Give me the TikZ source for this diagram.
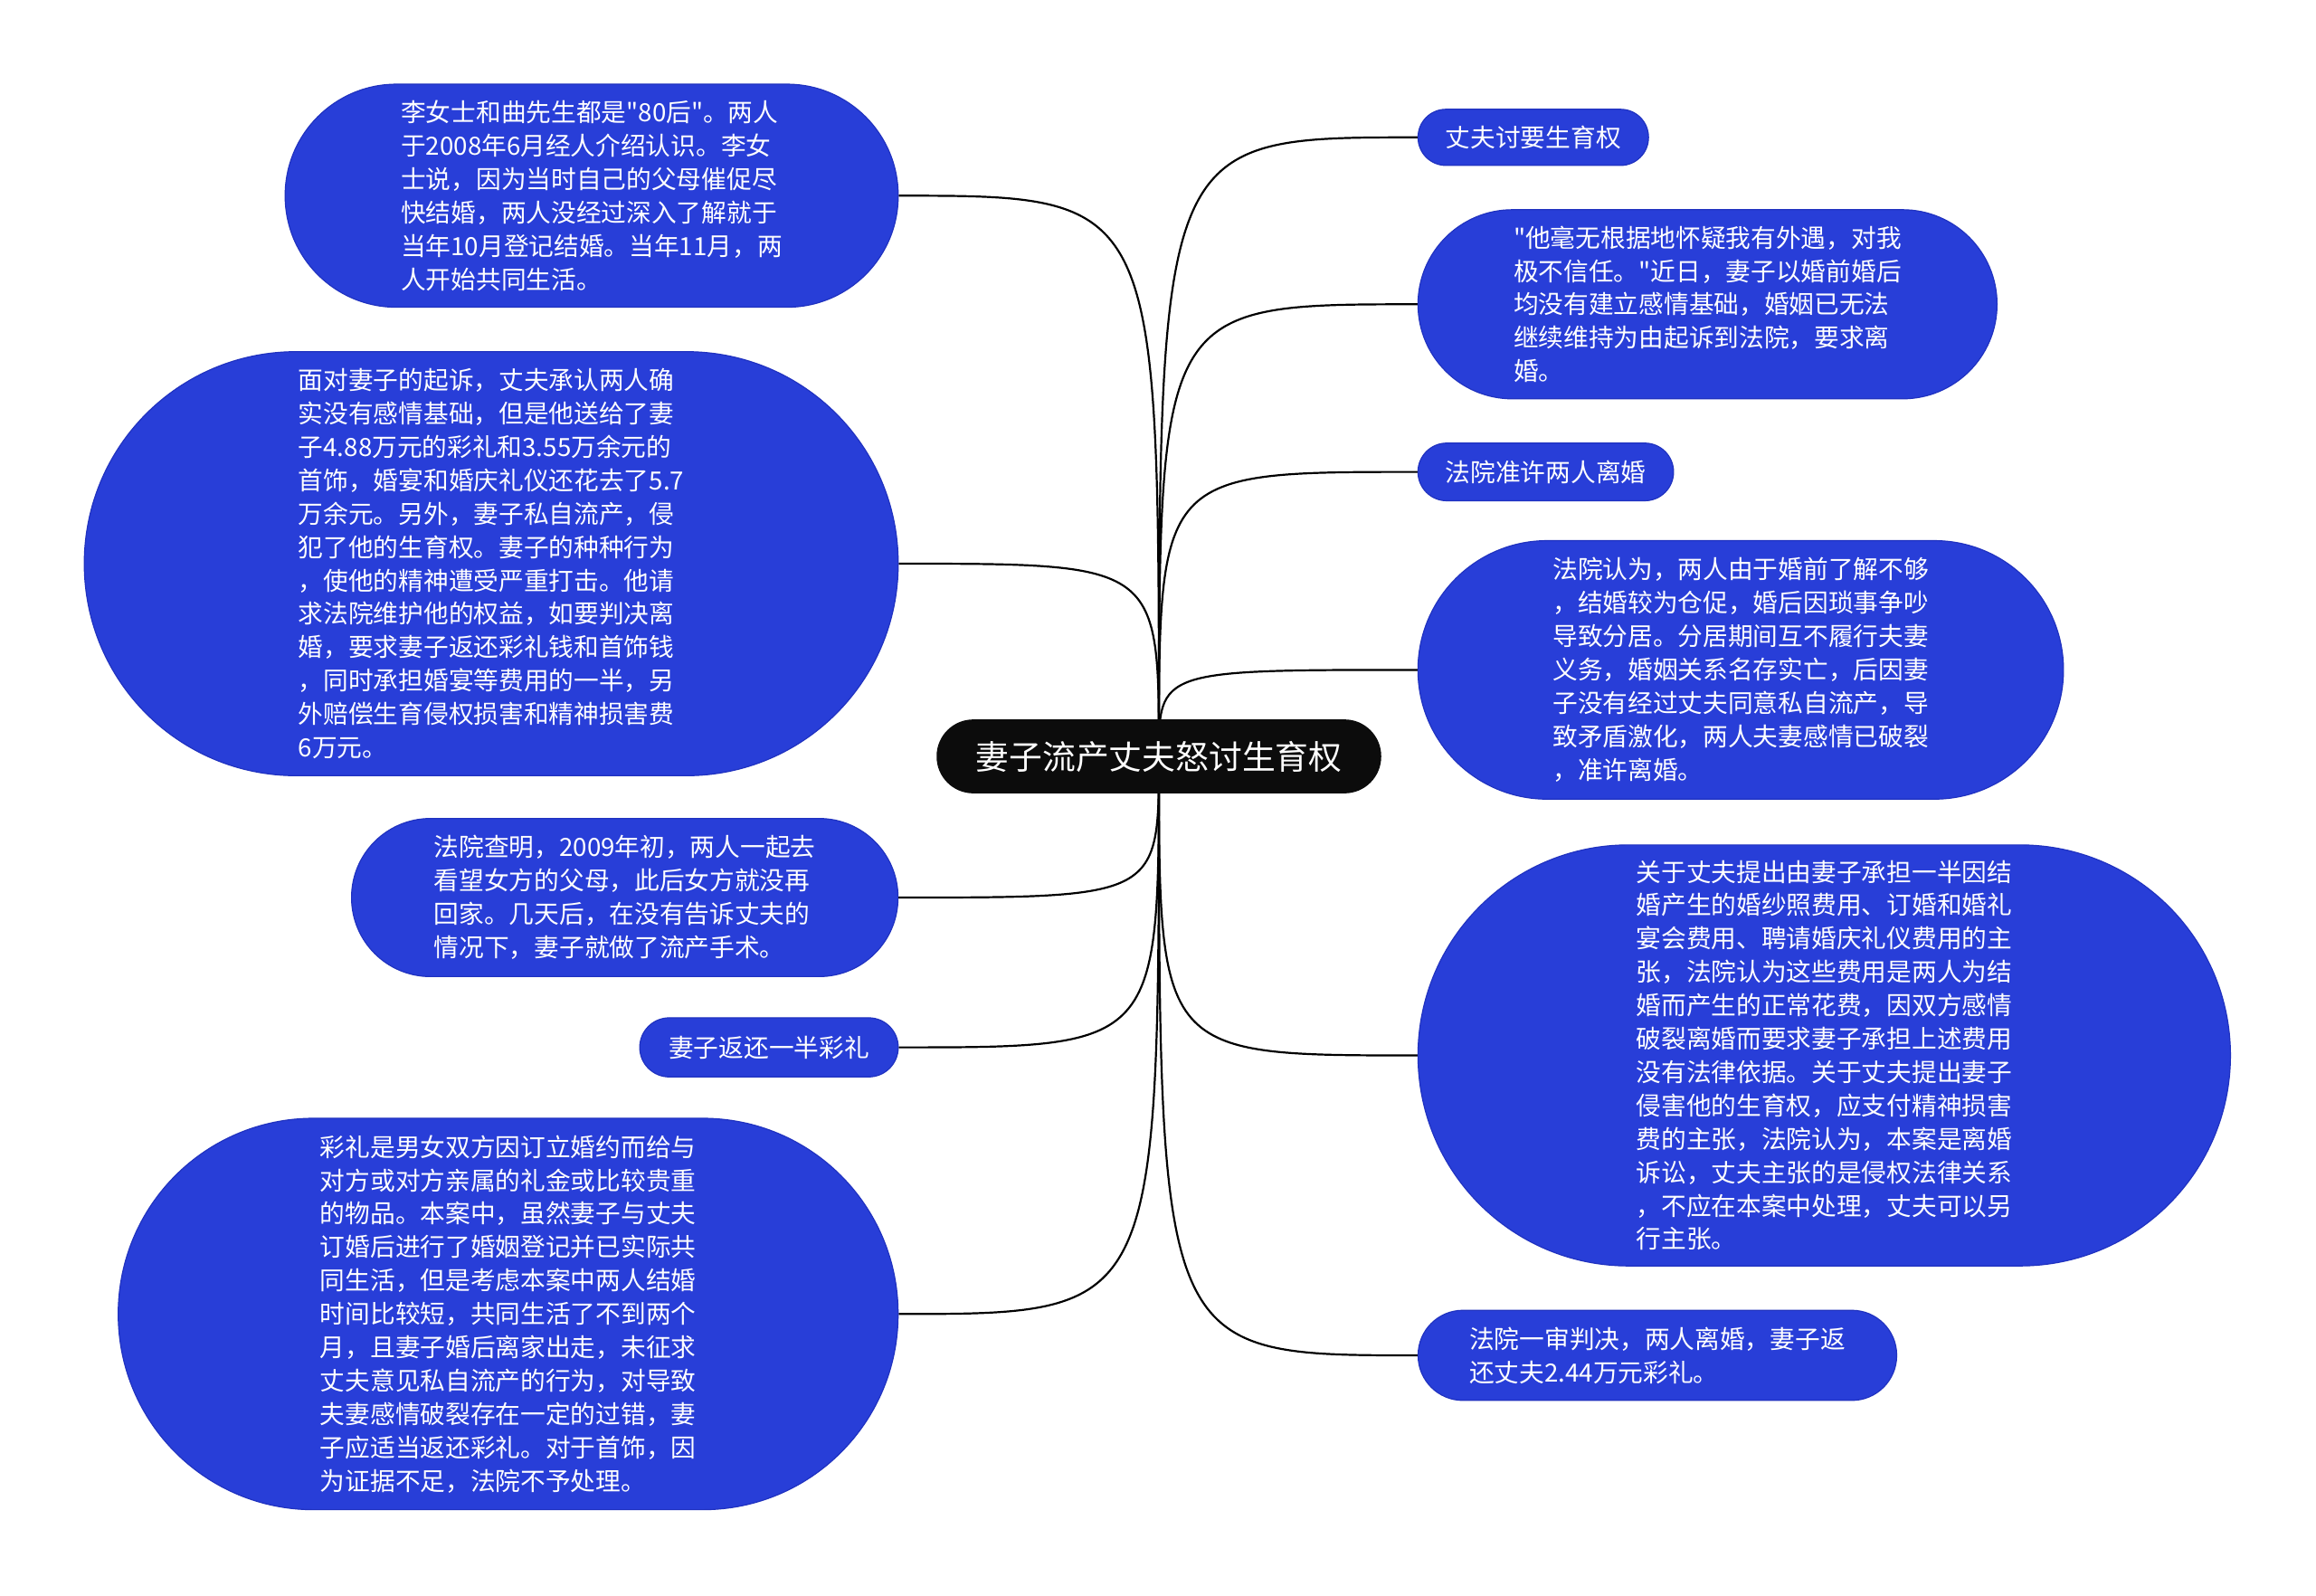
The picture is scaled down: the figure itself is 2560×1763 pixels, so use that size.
\documentclass[tikz,border=0pt]{standalone}
\usepackage{fontspec}
\newfontfamily\cjkfont{Noto Sans CJK SC}
\usetikzlibrary{backgrounds}
\definecolor{nodeblue}{RGB}{40,62,216}
\definecolor{edgeblue}{RGB}{32,50,192}
\definecolor{rootblack}{RGB}{12,12,12}
\begin{document}
\begin{tikzpicture}[x=0.5pt,y=-0.5pt,
  blob/.style={fill=nodeblue, draw=edgeblue, line width=0.6pt, text=white, align=left, inner sep=0pt,
    font=\cjkfont\fontsize{13.85}{18.45}\selectfont},
  rootnode/.style={fill=rootblack, draw=none, text=white, inner sep=0pt,
    font=\cjkfont\fontsize{18.4}{22}\selectfont},
  link/.style={draw=black, line width=1.1pt}]
\useasboundingbox (0,0) rectangle (2560,1763);

% root
\node[rootnode, minimum width=245.75pt, minimum height=40.85pt, rounded corners=20.3pt] (root) at (1281,836) {妻子流产丈夫怒讨生育权};

% left nodes
\node[blob, minimum width=338.8pt, minimum height=123.25pt, rounded corners=61.5pt] (L1) at (654,216.3) {李女士和曲先生都是"80后"。两人\\于2008年6月经人介绍认识。李女\\士说，因为当时自己的父母催促尽\\快结婚，两人没经过深入了解就于\\当年10月登记结婚。当年11月，两\\人开始共同生活。};

\node[blob, minimum width=449.8pt, minimum height=234.3pt, rounded corners=117pt] (L2) at (543,623) {面对妻子的起诉，丈夫承认两人确\\实没有感情基础，但是他送给了妻\\子4.88万元的彩礼和3.55万余元的\\首饰，婚宴和婚庆礼仪还花去了5.7\\万余元。另外，妻子私自流产，侵\\犯了他的生育权。妻子的种种行为\\，使他的精神遭受严重打击。他请\\求法院维护他的权益，如要判决离\\婚，要求妻子返还彩礼钱和首饰钱\\，同时承担婚宴等费用的一半，另\\外赔偿生育侵权损害和精神损害费\\6万元。};

\node[blob, minimum width=302pt, minimum height=87.35pt, rounded corners=43.6pt] (L3) at (690.6,992) {法院查明，2009年初，两人一起去\\看望女方的父母，此后女方就没再\\回家。几天后，在没有告诉丈夫的\\情况下，妻子就做了流产手术。};

\node[blob, minimum width=142.85pt, minimum height=32.65pt, rounded corners=16.3pt] (L4) at (850,1157.6) {妻子返还一半彩礼};

\node[blob, minimum width=431pt, minimum height=216.3pt, rounded corners=108pt] (L5) at (561.7,1452.3) {彩礼是男女双方因订立婚约而给与\\对方或对方亲属的礼金或比较贵重\\的物品。本案中，虽然妻子与丈夫\\订婚后进行了婚姻登记并已实际共\\同生活，但是考虑本案中两人结婚\\时间比较短，共同生活了不到两个\\月，且妻子婚后离家出走，未征求\\丈夫意见私自流产的行为，对导致\\夫妻感情破裂存在一定的过错，妻\\子应适当返还彩礼。对于首饰，因\\为证据不足，法院不予处理。};

% right nodes
\node[blob, minimum width=127.35pt, minimum height=31pt, rounded corners=15.4pt] (R1) at (1694.8,151.8) {丈夫讨要生育权};

\node[blob, minimum width=320pt, minimum height=104.5pt, rounded corners=52.2pt] (R2) at (1887.4,336.3) {"他毫无根据地怀疑我有外遇，对我\\极不信任。"近日，妻子以婚前婚后\\均没有建立感情基础，婚姻已无法\\继续维持为由起诉到法院，要求离\\婚。};

\node[blob, minimum width=141.25pt, minimum height=31.85pt, rounded corners=15.9pt] (R3) at (1708.6,521.6) {法院准许两人离婚};

\node[blob, minimum width=356.75pt, minimum height=142.85pt, rounded corners=71.4pt] (R4) at (1924.1,740.4) {法院认为，两人由于婚前了解不够\\，结婚较为仓促，婚后因琐事争吵\\导致分居。分居期间互不履行夫妻\\义务，婚姻关系名存实亡，后因妻\\子没有经过丈夫同意私自流产，导\\致矛盾激化，两人夫妻感情已破裂\\，准许离婚。};

\node[blob, minimum width=449pt, minimum height=232.65pt, rounded corners=116.3pt] (R5) at (2016.4,1166.5) {关于丈夫提出由妻子承担一半因结\\婚产生的婚纱照费用、订婚和婚礼\\宴会费用、聘请婚庆礼仪费用的主\\张，法院认为这些费用是两人为结\\婚而产生的正常花费，因双方感情\\破裂离婚而要求妻子承担上述费用\\没有法律依据。关于丈夫提出妻子\\侵害他的生育权，应支付精神损害\\费的主张，法院认为，本案是离婚\\诉讼，丈夫主张的是侵权法律关系\\，不应在本案中处理，丈夫可以另\\行主张。};

\node[blob, minimum width=264.5pt, minimum height=49.8pt, rounded corners=24.8pt] (R6) at (1832,1498) {法院一审判决，两人离婚，妻子返\\还丈夫2.44万元彩礼。};

\begin{scope}[on background layer]
\fill[white] (0,0) rectangle (2560,1763);
\foreach \n in {L1,L2,L3,L4,L5} {
  \draw[link] (root.center) .. controls (root.center |- \n.east) .. (\n.east);
}
\foreach \n in {R1,R2,R3,R4,R5,R6} {
  \draw[link] (root.center) .. controls (root.center |- \n.west) .. (\n.west);
}
\end{scope}
\end{tikzpicture}
\end{document}
